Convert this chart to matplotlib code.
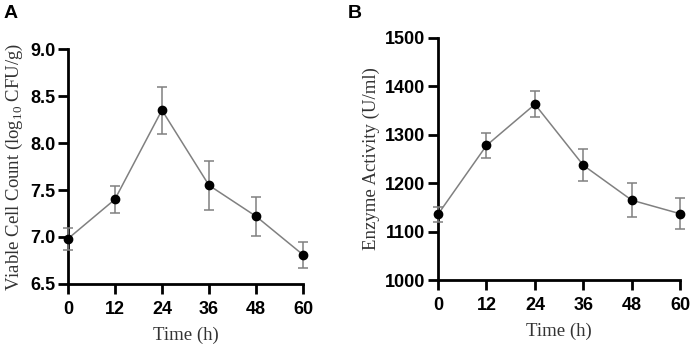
import matplotlib.pyplot as plt

plt.rcParams['mathtext.fontset'] = 'custom'
plt.rcParams['mathtext.rm'] = 'Liberation Serif'

time_h = [0, 12, 24, 36, 48, 60]

# panel A: viable cell count
cells = [6.98, 7.40, 8.35, 7.55, 7.22, 6.81]
cells_err = [0.12, 0.14, 0.25, 0.26, 0.21, 0.14]

# panel B: enzyme activity
enzyme = [1136, 1278, 1363, 1237, 1165, 1137]
enzyme_err = [16, 26, 27, 33, 35, 32]

fig = plt.figure(figsize=(6.92, 3.48), dpi=100)
axA = fig.add_axes([0.098, 0.184, 0.34, 0.675])
axB = fig.add_axes([0.633, 0.195, 0.350, 0.696])


def style(ax, yticks, ylabels, ylabel):
    for s in ['top', 'right']:
        ax.spines[s].set_visible(False)
    for s in ['left', 'bottom']:
        ax.spines[s].set_linewidth(2)
    ax.tick_params(width=2, length=7, direction='out')
    ax.tick_params(axis='x', pad=5)
    ax.tick_params(axis='y', pad=2)
    ax.set_xlim(0, 60)
    ax.set_xticks(time_h)
    ax.set_xticklabels([str(t) for t in time_h], family='Liberation Sans',
                       fontweight='bold', fontsize=13)
    ax.set_yticks(yticks)
    ax.set_yticklabels(ylabels, family='Liberation Sans', fontweight='bold', fontsize=13)
    ax.set_ylim(yticks[0], yticks[-1])
    ax.set_xlabel('Time (h)', family='Liberation Serif', fontsize=13.5, color='#333333', labelpad=6.5)
    ax.set_ylabel(ylabel, family='Liberation Serif', fontsize=13.5, color='#333333', labelpad=4)


def draw(ax, y, err):
    ax.errorbar(time_h, y, yerr=err, color='#808080', lw=1.1, elinewidth=1.1,
                capsize=3.5, capthick=1.1, marker='o', markersize=6,
                markerfacecolor='black', markeredgecolor='black', clip_on=False, zorder=3)


draw(axA, cells, cells_err)
style(axA, [6.5, 7.0, 7.5, 8.0, 8.5, 9.0], ['6.5', '7.0', '7.5', '8.0', '8.5', '9.0'],
      r'Viable Cell Count (log$_{10}$ CFU/g)')

draw(axB, enzyme, enzyme_err)
style(axB, [1000, 1100, 1200, 1300, 1400, 1500],
      ['1000', '1100', '1200', '1300', '1400', '1500'], 'Enzyme Activity (U/ml)')

fig.text(0.005, 0.985, 'A', family='Liberation Sans', fontweight='bold', fontsize=14, va='top')
fig.text(0.503, 0.985, 'B', family='Liberation Sans', fontweight='bold', fontsize=14, va='top')

fig.savefig('out.png', dpi=100)
